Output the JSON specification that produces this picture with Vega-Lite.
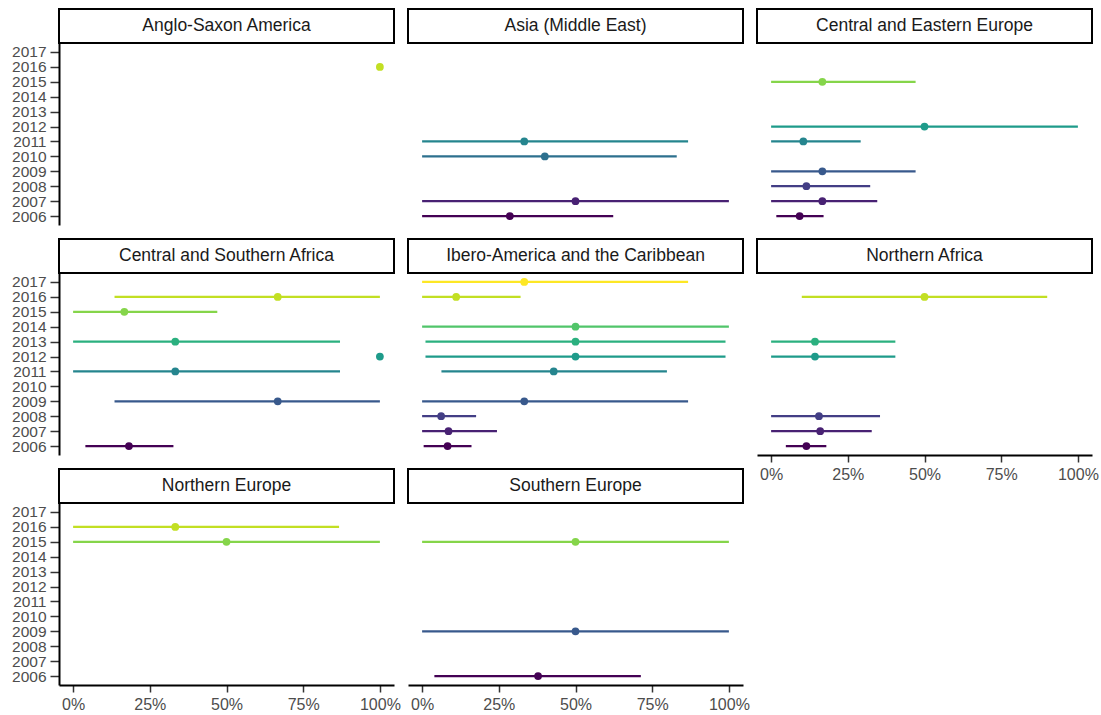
{
  "$schema": "https://vega.github.io/schema/vega-lite/v6.json",
  "padding": {"left": 11, "top": 8, "right": 5, "bottom": 5},
  "background": "white",
  "data": {"values": [
    {"region": "Anglo-Saxon America", "year": 2016, "est": 1.0, "lo": 1.0, "hi": 1.0},
    {"region": "Asia (Middle East)", "year": 2011, "est": 0.333, "lo": 0.0, "hi": 0.867},
    {"region": "Asia (Middle East)", "year": 2010, "est": 0.4, "lo": 0.0, "hi": 0.83},
    {"region": "Asia (Middle East)", "year": 2007, "est": 0.5, "lo": 0.0, "hi": 1.0},
    {"region": "Asia (Middle East)", "year": 2006, "est": 0.286, "lo": 0.0, "hi": 0.623},
    {"region": "Central and Eastern Europe", "year": 2015, "est": 0.167, "lo": 0.0, "hi": 0.471},
    {"region": "Central and Eastern Europe", "year": 2012, "est": 0.5, "lo": 0.0, "hi": 1.0},
    {"region": "Central and Eastern Europe", "year": 2011, "est": 0.105, "lo": 0.0, "hi": 0.292},
    {"region": "Central and Eastern Europe", "year": 2009, "est": 0.167, "lo": 0.0, "hi": 0.471},
    {"region": "Central and Eastern Europe", "year": 2008, "est": 0.115, "lo": 0.0, "hi": 0.323},
    {"region": "Central and Eastern Europe", "year": 2007, "est": 0.167, "lo": 0.0, "hi": 0.346},
    {"region": "Central and Eastern Europe", "year": 2006, "est": 0.093, "lo": 0.017, "hi": 0.171},
    {"region": "Central and Southern Africa", "year": 2016, "est": 0.667, "lo": 0.135, "hi": 1.0},
    {"region": "Central and Southern Africa", "year": 2015, "est": 0.167, "lo": 0.0, "hi": 0.47},
    {"region": "Central and Southern Africa", "year": 2013, "est": 0.333, "lo": 0.0, "hi": 0.87},
    {"region": "Central and Southern Africa", "year": 2012, "est": 1.0, "lo": 1.0, "hi": 1.0},
    {"region": "Central and Southern Africa", "year": 2011, "est": 0.333, "lo": 0.0, "hi": 0.87},
    {"region": "Central and Southern Africa", "year": 2009, "est": 0.667, "lo": 0.135, "hi": 1.0},
    {"region": "Central and Southern Africa", "year": 2006, "est": 0.182, "lo": 0.04, "hi": 0.327},
    {"region": "Ibero-America and the Caribbean", "year": 2017, "est": 0.333, "lo": 0.0, "hi": 0.867},
    {"region": "Ibero-America and the Caribbean", "year": 2016, "est": 0.111, "lo": 0.0, "hi": 0.321},
    {"region": "Ibero-America and the Caribbean", "year": 2014, "est": 0.5, "lo": 0.0, "hi": 1.0},
    {"region": "Ibero-America and the Caribbean", "year": 2013, "est": 0.5, "lo": 0.011, "hi": 0.989},
    {"region": "Ibero-America and the Caribbean", "year": 2012, "est": 0.5, "lo": 0.011, "hi": 0.989},
    {"region": "Ibero-America and the Caribbean", "year": 2011, "est": 0.429, "lo": 0.063, "hi": 0.798},
    {"region": "Ibero-America and the Caribbean", "year": 2009, "est": 0.333, "lo": 0.0, "hi": 0.867},
    {"region": "Ibero-America and the Caribbean", "year": 2008, "est": 0.062, "lo": 0.0, "hi": 0.176},
    {"region": "Ibero-America and the Caribbean", "year": 2007, "est": 0.086, "lo": 0.0, "hi": 0.244},
    {"region": "Ibero-America and the Caribbean", "year": 2006, "est": 0.083, "lo": 0.005, "hi": 0.161},
    {"region": "Northern Africa", "year": 2016, "est": 0.5, "lo": 0.1, "hi": 0.9},
    {"region": "Northern Africa", "year": 2013, "est": 0.143, "lo": 0.0, "hi": 0.405},
    {"region": "Northern Africa", "year": 2012, "est": 0.143, "lo": 0.0, "hi": 0.405},
    {"region": "Northern Africa", "year": 2008, "est": 0.156, "lo": 0.0, "hi": 0.355},
    {"region": "Northern Africa", "year": 2007, "est": 0.16, "lo": 0.0, "hi": 0.328},
    {"region": "Northern Africa", "year": 2006, "est": 0.115, "lo": 0.048, "hi": 0.18},
    {"region": "Northern Europe", "year": 2016, "est": 0.333, "lo": 0.0, "hi": 0.867},
    {"region": "Northern Europe", "year": 2015, "est": 0.5, "lo": 0.0, "hi": 1.0},
    {"region": "Southern Europe", "year": 2015, "est": 0.5, "lo": 0.0, "hi": 1.0},
    {"region": "Southern Europe", "year": 2009, "est": 0.5, "lo": 0.0, "hi": 1.0},
    {"region": "Southern Europe", "year": 2006, "est": 0.378, "lo": 0.04, "hi": 0.713}
  ]},
  "columns": 3,
  "spacing": 14,
  "bounds": "flush",
  "concat": [
    {
      "transform": [{"filter": {"field": "region", "equal": "Anglo-Saxon America"}}],
      "width": 335, "height": 216,
      "layer": [
        {"transform": [{"aggregate": [{"op": "count", "as": "n"}], "groupby": ["region"]}],
         "mark": {"type": "rect", "fill": "white", "stroke": "black", "strokeWidth": 2},
         "encoding": {
           "x": {"datum": -0.046, "type": "quantitative", "scale": {"domain": [-0.046, 1.046], "nice": false, "zero": false}, "axis": null},
           "x2": {"datum": 1.046},
           "y": {"datum": 2017.6, "type": "quantitative", "scale": {"domain": [2005.4, 2019.88], "nice": false, "zero": false}, "axis": {"values": [2006, 2007, 2008, 2009, 2010, 2011, 2012, 2013, 2014, 2015, 2016, 2017], "format": "d", "title": null}},
           "y2": {"datum": 2019.88}}},
        {"transform": [{"aggregate": [{"op": "count", "as": "n"}], "groupby": ["region"]}],
         "mark": {"type": "text", "fontSize": 17.5, "font": "Liberation Sans", "color": "#1A1A1A", "baseline": "middle"},
         "encoding": {
           "x": {"datum": 0.5, "type": "quantitative", "axis": null},
           "y": {"datum": 2018.72, "type": "quantitative", "axis": {"values": [2006, 2007, 2008, 2009, 2010, 2011, 2012, 2013, 2014, 2015, 2016, 2017], "format": "d", "title": null}},
           "text": {"field": "region", "type": "nominal"}}},
        {"mark": {"type": "rule", "strokeWidth": 2.2},
         "encoding": {
           "x": {"field": "lo", "type": "quantitative", "axis": null},
           "x2": {"field": "hi"},
           "y": {"field": "year", "type": "quantitative", "axis": {"values": [2006, 2007, 2008, 2009, 2010, 2011, 2012, 2013, 2014, 2015, 2016, 2017], "format": "d", "title": null}},
           "color": {"field": "year", "type": "ordinal", "legend": null, "scale": {"domain": [2006, 2007, 2008, 2009, 2010, 2011, 2012, 2013, 2014, 2015, 2016, 2017], "range": ["#440154", "#482173", "#433E85", "#38598C", "#2D708E", "#25858E", "#1E9B8A", "#2BB07F", "#51C56A", "#85D54A", "#C2DF23", "#FDE725"]}}}},
        {"mark": {"type": "point", "filled": true, "size": 60, "opacity": 1},
         "encoding": {
           "x": {"field": "est", "type": "quantitative", "axis": null},
           "y": {"field": "year", "type": "quantitative", "axis": {"values": [2006, 2007, 2008, 2009, 2010, 2011, 2012, 2013, 2014, 2015, 2016, 2017], "format": "d", "title": null}},
           "color": {"field": "year", "type": "ordinal", "legend": null}}}
      ]
    },
    {
      "transform": [{"filter": {"field": "region", "equal": "Asia (Middle East)"}}],
      "width": 335, "height": 216,
      "layer": [
        {"transform": [{"aggregate": [{"op": "count", "as": "n"}], "groupby": ["region"]}],
         "mark": {"type": "rect", "fill": "white", "stroke": "black", "strokeWidth": 2},
         "encoding": {
           "x": {"datum": -0.046, "type": "quantitative", "scale": {"domain": [-0.046, 1.046], "nice": false, "zero": false}, "axis": null},
           "x2": {"datum": 1.046},
           "y": {"datum": 2017.6, "type": "quantitative", "scale": {"domain": [2005.4, 2019.88], "nice": false, "zero": false}, "axis": null},
           "y2": {"datum": 2019.88}}},
        {"transform": [{"aggregate": [{"op": "count", "as": "n"}], "groupby": ["region"]}],
         "mark": {"type": "text", "fontSize": 17.5, "font": "Liberation Sans", "color": "#1A1A1A", "baseline": "middle"},
         "encoding": {
           "x": {"datum": 0.5, "type": "quantitative", "axis": null},
           "y": {"datum": 2018.72, "type": "quantitative", "axis": null},
           "text": {"field": "region", "type": "nominal"}}},
        {"mark": {"type": "rule", "strokeWidth": 2.2},
         "encoding": {
           "x": {"field": "lo", "type": "quantitative", "axis": null},
           "x2": {"field": "hi"},
           "y": {"field": "year", "type": "quantitative", "axis": null},
           "color": {"field": "year", "type": "ordinal", "legend": null, "scale": {"domain": [2006, 2007, 2008, 2009, 2010, 2011, 2012, 2013, 2014, 2015, 2016, 2017], "range": ["#440154", "#482173", "#433E85", "#38598C", "#2D708E", "#25858E", "#1E9B8A", "#2BB07F", "#51C56A", "#85D54A", "#C2DF23", "#FDE725"]}}}},
        {"mark": {"type": "point", "filled": true, "size": 60, "opacity": 1},
         "encoding": {
           "x": {"field": "est", "type": "quantitative", "axis": null},
           "y": {"field": "year", "type": "quantitative", "axis": null},
           "color": {"field": "year", "type": "ordinal", "legend": null}}}
      ]
    },
    {
      "transform": [{"filter": {"field": "region", "equal": "Central and Eastern Europe"}}],
      "width": 335, "height": 216,
      "layer": [
        {"transform": [{"aggregate": [{"op": "count", "as": "n"}], "groupby": ["region"]}],
         "mark": {"type": "rect", "fill": "white", "stroke": "black", "strokeWidth": 2},
         "encoding": {
           "x": {"datum": -0.046, "type": "quantitative", "scale": {"domain": [-0.046, 1.046], "nice": false, "zero": false}, "axis": null},
           "x2": {"datum": 1.046},
           "y": {"datum": 2017.6, "type": "quantitative", "scale": {"domain": [2005.4, 2019.88], "nice": false, "zero": false}, "axis": null},
           "y2": {"datum": 2019.88}}},
        {"transform": [{"aggregate": [{"op": "count", "as": "n"}], "groupby": ["region"]}],
         "mark": {"type": "text", "fontSize": 17.5, "font": "Liberation Sans", "color": "#1A1A1A", "baseline": "middle"},
         "encoding": {
           "x": {"datum": 0.5, "type": "quantitative", "axis": null},
           "y": {"datum": 2018.72, "type": "quantitative", "axis": null},
           "text": {"field": "region", "type": "nominal"}}},
        {"mark": {"type": "rule", "strokeWidth": 2.2},
         "encoding": {
           "x": {"field": "lo", "type": "quantitative", "axis": null},
           "x2": {"field": "hi"},
           "y": {"field": "year", "type": "quantitative", "axis": null},
           "color": {"field": "year", "type": "ordinal", "legend": null, "scale": {"domain": [2006, 2007, 2008, 2009, 2010, 2011, 2012, 2013, 2014, 2015, 2016, 2017], "range": ["#440154", "#482173", "#433E85", "#38598C", "#2D708E", "#25858E", "#1E9B8A", "#2BB07F", "#51C56A", "#85D54A", "#C2DF23", "#FDE725"]}}}},
        {"mark": {"type": "point", "filled": true, "size": 60, "opacity": 1},
         "encoding": {
           "x": {"field": "est", "type": "quantitative", "axis": null},
           "y": {"field": "year", "type": "quantitative", "axis": null},
           "color": {"field": "year", "type": "ordinal", "legend": null}}}
      ]
    },
    {
      "transform": [{"filter": {"field": "region", "equal": "Central and Southern Africa"}}],
      "width": 335, "height": 216,
      "layer": [
        {"transform": [{"aggregate": [{"op": "count", "as": "n"}], "groupby": ["region"]}],
         "mark": {"type": "rect", "fill": "white", "stroke": "black", "strokeWidth": 2},
         "encoding": {
           "x": {"datum": -0.046, "type": "quantitative", "scale": {"domain": [-0.046, 1.046], "nice": false, "zero": false}, "axis": null},
           "x2": {"datum": 1.046},
           "y": {"datum": 2017.6, "type": "quantitative", "scale": {"domain": [2005.4, 2019.88], "nice": false, "zero": false}, "axis": {"values": [2006, 2007, 2008, 2009, 2010, 2011, 2012, 2013, 2014, 2015, 2016, 2017], "format": "d", "title": null}},
           "y2": {"datum": 2019.88}}},
        {"transform": [{"aggregate": [{"op": "count", "as": "n"}], "groupby": ["region"]}],
         "mark": {"type": "text", "fontSize": 17.5, "font": "Liberation Sans", "color": "#1A1A1A", "baseline": "middle"},
         "encoding": {
           "x": {"datum": 0.5, "type": "quantitative", "axis": null},
           "y": {"datum": 2018.72, "type": "quantitative", "axis": {"values": [2006, 2007, 2008, 2009, 2010, 2011, 2012, 2013, 2014, 2015, 2016, 2017], "format": "d", "title": null}},
           "text": {"field": "region", "type": "nominal"}}},
        {"mark": {"type": "rule", "strokeWidth": 2.2},
         "encoding": {
           "x": {"field": "lo", "type": "quantitative", "axis": null},
           "x2": {"field": "hi"},
           "y": {"field": "year", "type": "quantitative", "axis": {"values": [2006, 2007, 2008, 2009, 2010, 2011, 2012, 2013, 2014, 2015, 2016, 2017], "format": "d", "title": null}},
           "color": {"field": "year", "type": "ordinal", "legend": null, "scale": {"domain": [2006, 2007, 2008, 2009, 2010, 2011, 2012, 2013, 2014, 2015, 2016, 2017], "range": ["#440154", "#482173", "#433E85", "#38598C", "#2D708E", "#25858E", "#1E9B8A", "#2BB07F", "#51C56A", "#85D54A", "#C2DF23", "#FDE725"]}}}},
        {"mark": {"type": "point", "filled": true, "size": 60, "opacity": 1},
         "encoding": {
           "x": {"field": "est", "type": "quantitative", "axis": null},
           "y": {"field": "year", "type": "quantitative", "axis": {"values": [2006, 2007, 2008, 2009, 2010, 2011, 2012, 2013, 2014, 2015, 2016, 2017], "format": "d", "title": null}},
           "color": {"field": "year", "type": "ordinal", "legend": null}}}
      ]
    },
    {
      "transform": [{"filter": {"field": "region", "equal": "Ibero-America and the Caribbean"}}],
      "width": 335, "height": 216,
      "layer": [
        {"transform": [{"aggregate": [{"op": "count", "as": "n"}], "groupby": ["region"]}],
         "mark": {"type": "rect", "fill": "white", "stroke": "black", "strokeWidth": 2},
         "encoding": {
           "x": {"datum": -0.046, "type": "quantitative", "scale": {"domain": [-0.046, 1.046], "nice": false, "zero": false}, "axis": null},
           "x2": {"datum": 1.046},
           "y": {"datum": 2017.6, "type": "quantitative", "scale": {"domain": [2005.4, 2019.88], "nice": false, "zero": false}, "axis": null},
           "y2": {"datum": 2019.88}}},
        {"transform": [{"aggregate": [{"op": "count", "as": "n"}], "groupby": ["region"]}],
         "mark": {"type": "text", "fontSize": 17.5, "font": "Liberation Sans", "color": "#1A1A1A", "baseline": "middle"},
         "encoding": {
           "x": {"datum": 0.5, "type": "quantitative", "axis": null},
           "y": {"datum": 2018.72, "type": "quantitative", "axis": null},
           "text": {"field": "region", "type": "nominal"}}},
        {"mark": {"type": "rule", "strokeWidth": 2.2},
         "encoding": {
           "x": {"field": "lo", "type": "quantitative", "axis": null},
           "x2": {"field": "hi"},
           "y": {"field": "year", "type": "quantitative", "axis": null},
           "color": {"field": "year", "type": "ordinal", "legend": null, "scale": {"domain": [2006, 2007, 2008, 2009, 2010, 2011, 2012, 2013, 2014, 2015, 2016, 2017], "range": ["#440154", "#482173", "#433E85", "#38598C", "#2D708E", "#25858E", "#1E9B8A", "#2BB07F", "#51C56A", "#85D54A", "#C2DF23", "#FDE725"]}}}},
        {"mark": {"type": "point", "filled": true, "size": 60, "opacity": 1},
         "encoding": {
           "x": {"field": "est", "type": "quantitative", "axis": null},
           "y": {"field": "year", "type": "quantitative", "axis": null},
           "color": {"field": "year", "type": "ordinal", "legend": null}}}
      ]
    },
    {
      "transform": [{"filter": {"field": "region", "equal": "Northern Africa"}}],
      "width": 335, "height": 216,
      "layer": [
        {"transform": [{"aggregate": [{"op": "count", "as": "n"}], "groupby": ["region"]}],
         "mark": {"type": "rect", "fill": "white", "stroke": "black", "strokeWidth": 2},
         "encoding": {
           "x": {"datum": -0.046, "type": "quantitative", "scale": {"domain": [-0.046, 1.046], "nice": false, "zero": false}, "axis": {"values": [0, 0.25, 0.5, 0.75, 1], "format": ".0%", "title": null}},
           "x2": {"datum": 1.046},
           "y": {"datum": 2017.6, "type": "quantitative", "scale": {"domain": [2005.4, 2019.88], "nice": false, "zero": false}, "axis": null},
           "y2": {"datum": 2019.88}}},
        {"transform": [{"aggregate": [{"op": "count", "as": "n"}], "groupby": ["region"]}],
         "mark": {"type": "text", "fontSize": 17.5, "font": "Liberation Sans", "color": "#1A1A1A", "baseline": "middle"},
         "encoding": {
           "x": {"datum": 0.5, "type": "quantitative", "axis": {"values": [0, 0.25, 0.5, 0.75, 1], "format": ".0%", "title": null}},
           "y": {"datum": 2018.72, "type": "quantitative", "axis": null},
           "text": {"field": "region", "type": "nominal"}}},
        {"mark": {"type": "rule", "strokeWidth": 2.2},
         "encoding": {
           "x": {"field": "lo", "type": "quantitative", "axis": {"values": [0, 0.25, 0.5, 0.75, 1], "format": ".0%", "title": null}},
           "x2": {"field": "hi"},
           "y": {"field": "year", "type": "quantitative", "axis": null},
           "color": {"field": "year", "type": "ordinal", "legend": null, "scale": {"domain": [2006, 2007, 2008, 2009, 2010, 2011, 2012, 2013, 2014, 2015, 2016, 2017], "range": ["#440154", "#482173", "#433E85", "#38598C", "#2D708E", "#25858E", "#1E9B8A", "#2BB07F", "#51C56A", "#85D54A", "#C2DF23", "#FDE725"]}}}},
        {"mark": {"type": "point", "filled": true, "size": 60, "opacity": 1},
         "encoding": {
           "x": {"field": "est", "type": "quantitative", "axis": {"values": [0, 0.25, 0.5, 0.75, 1], "format": ".0%", "title": null}},
           "y": {"field": "year", "type": "quantitative", "axis": null},
           "color": {"field": "year", "type": "ordinal", "legend": null}}}
      ]
    },
    {
      "transform": [{"filter": {"field": "region", "equal": "Northern Europe"}}],
      "width": 335, "height": 216,
      "layer": [
        {"transform": [{"aggregate": [{"op": "count", "as": "n"}], "groupby": ["region"]}],
         "mark": {"type": "rect", "fill": "white", "stroke": "black", "strokeWidth": 2},
         "encoding": {
           "x": {"datum": -0.046, "type": "quantitative", "scale": {"domain": [-0.046, 1.046], "nice": false, "zero": false}, "axis": {"values": [0, 0.25, 0.5, 0.75, 1], "format": ".0%", "title": null}},
           "x2": {"datum": 1.046},
           "y": {"datum": 2017.6, "type": "quantitative", "scale": {"domain": [2005.4, 2019.88], "nice": false, "zero": false}, "axis": {"values": [2006, 2007, 2008, 2009, 2010, 2011, 2012, 2013, 2014, 2015, 2016, 2017], "format": "d", "title": null}},
           "y2": {"datum": 2019.88}}},
        {"transform": [{"aggregate": [{"op": "count", "as": "n"}], "groupby": ["region"]}],
         "mark": {"type": "text", "fontSize": 17.5, "font": "Liberation Sans", "color": "#1A1A1A", "baseline": "middle"},
         "encoding": {
           "x": {"datum": 0.5, "type": "quantitative", "axis": {"values": [0, 0.25, 0.5, 0.75, 1], "format": ".0%", "title": null}},
           "y": {"datum": 2018.72, "type": "quantitative", "axis": {"values": [2006, 2007, 2008, 2009, 2010, 2011, 2012, 2013, 2014, 2015, 2016, 2017], "format": "d", "title": null}},
           "text": {"field": "region", "type": "nominal"}}},
        {"mark": {"type": "rule", "strokeWidth": 2.2},
         "encoding": {
           "x": {"field": "lo", "type": "quantitative", "axis": {"values": [0, 0.25, 0.5, 0.75, 1], "format": ".0%", "title": null}},
           "x2": {"field": "hi"},
           "y": {"field": "year", "type": "quantitative", "axis": {"values": [2006, 2007, 2008, 2009, 2010, 2011, 2012, 2013, 2014, 2015, 2016, 2017], "format": "d", "title": null}},
           "color": {"field": "year", "type": "ordinal", "legend": null, "scale": {"domain": [2006, 2007, 2008, 2009, 2010, 2011, 2012, 2013, 2014, 2015, 2016, 2017], "range": ["#440154", "#482173", "#433E85", "#38598C", "#2D708E", "#25858E", "#1E9B8A", "#2BB07F", "#51C56A", "#85D54A", "#C2DF23", "#FDE725"]}}}},
        {"mark": {"type": "point", "filled": true, "size": 60, "opacity": 1},
         "encoding": {
           "x": {"field": "est", "type": "quantitative", "axis": {"values": [0, 0.25, 0.5, 0.75, 1], "format": ".0%", "title": null}},
           "y": {"field": "year", "type": "quantitative", "axis": {"values": [2006, 2007, 2008, 2009, 2010, 2011, 2012, 2013, 2014, 2015, 2016, 2017], "format": "d", "title": null}},
           "color": {"field": "year", "type": "ordinal", "legend": null}}}
      ]
    },
    {
      "transform": [{"filter": {"field": "region", "equal": "Southern Europe"}}],
      "width": 335, "height": 216,
      "layer": [
        {"transform": [{"aggregate": [{"op": "count", "as": "n"}], "groupby": ["region"]}],
         "mark": {"type": "rect", "fill": "white", "stroke": "black", "strokeWidth": 2},
         "encoding": {
           "x": {"datum": -0.046, "type": "quantitative", "scale": {"domain": [-0.046, 1.046], "nice": false, "zero": false}, "axis": {"values": [0, 0.25, 0.5, 0.75, 1], "format": ".0%", "title": null}},
           "x2": {"datum": 1.046},
           "y": {"datum": 2017.6, "type": "quantitative", "scale": {"domain": [2005.4, 2019.88], "nice": false, "zero": false}, "axis": null},
           "y2": {"datum": 2019.88}}},
        {"transform": [{"aggregate": [{"op": "count", "as": "n"}], "groupby": ["region"]}],
         "mark": {"type": "text", "fontSize": 17.5, "font": "Liberation Sans", "color": "#1A1A1A", "baseline": "middle"},
         "encoding": {
           "x": {"datum": 0.5, "type": "quantitative", "axis": {"values": [0, 0.25, 0.5, 0.75, 1], "format": ".0%", "title": null}},
           "y": {"datum": 2018.72, "type": "quantitative", "axis": null},
           "text": {"field": "region", "type": "nominal"}}},
        {"mark": {"type": "rule", "strokeWidth": 2.2},
         "encoding": {
           "x": {"field": "lo", "type": "quantitative", "axis": {"values": [0, 0.25, 0.5, 0.75, 1], "format": ".0%", "title": null}},
           "x2": {"field": "hi"},
           "y": {"field": "year", "type": "quantitative", "axis": null},
           "color": {"field": "year", "type": "ordinal", "legend": null, "scale": {"domain": [2006, 2007, 2008, 2009, 2010, 2011, 2012, 2013, 2014, 2015, 2016, 2017], "range": ["#440154", "#482173", "#433E85", "#38598C", "#2D708E", "#25858E", "#1E9B8A", "#2BB07F", "#51C56A", "#85D54A", "#C2DF23", "#FDE725"]}}}},
        {"mark": {"type": "point", "filled": true, "size": 60, "opacity": 1},
         "encoding": {
           "x": {"field": "est", "type": "quantitative", "axis": {"values": [0, 0.25, 0.5, 0.75, 1], "format": ".0%", "title": null}},
           "y": {"field": "year", "type": "quantitative", "axis": null},
           "color": {"field": "year", "type": "ordinal", "legend": null}}}
      ]
    }
  ],
  "config": {
    "view": {"stroke": null},
    "text": {"align": "center"},
    "axis": {"grid": false, "domainColor": "black", "domainWidth": 2, "tickColor": "#333333", "tickWidth": 1.5, "tickSize": 9, "labelColor": "#4D4D4D", "labelFont": "Liberation Sans", "labelPadding": 4, "labelOverlap": false, "labelFlush": false},
    "axisX": {"labelFontSize": 16, "tickSize": 7, "labelPadding": 4},
    "axisY": {"labelFontSize": 15.5}
  }
}
